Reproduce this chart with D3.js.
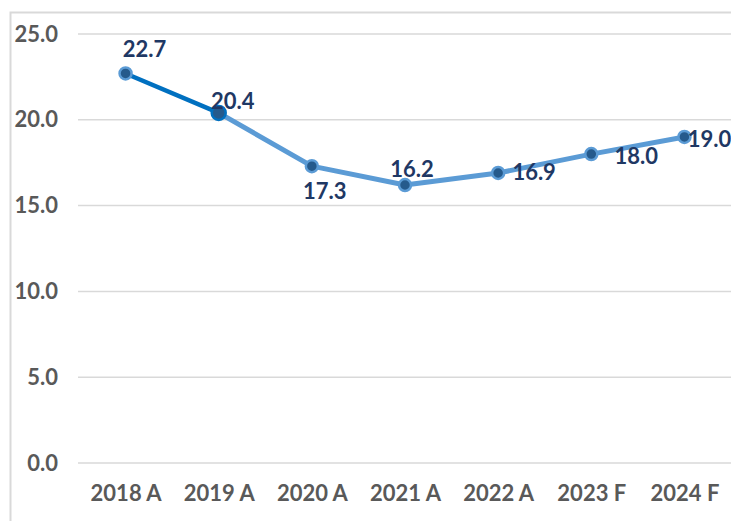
<!DOCTYPE html>
<html>
<head>
<meta charset="utf-8">
<script src="https://cdn.jsdelivr.net/npm/d3@7"></script>
<style>
  body { margin: 0; background: #fff; }
  text { font-family: Lato, "Open Sans", sans-serif; font-weight: bold; }
</style>
</head>
<body>
<div id="chart"></div>
<script>
var categories = ["2018 A", "2019 A", "2020 A", "2021 A", "2022 A", "2023 F", "2024 F"];
var values = [22.7, 20.4, 17.3, 16.2, 16.9, 18.0, 19.0];
var yTicks = [0, 5, 10, 15, 20, 25];

// label nudges (px) relative to each point, as dragged in the original
var labelOffsets = [[19, -24], [14, -12], [13, 25], [7, -16], [36, -1], [45, 2], [25, 2]];

var width = 731;
var height = 521;

var svg = d3.select("#chart").append("svg")
  .attr("width", width)
  .attr("height", height);

// chart frame (right and bottom edges fall outside the picture)
svg.append("rect")
  .attr("x", 10.5)
  .attr("y", 12.5)
  .attr("width", 760)
  .attr("height", 560)
  .attr("fill", "none")
  .attr("stroke", "#d9d9d9")
  .attr("stroke-width", 2);

var x = d3.scalePoint()
  .domain(categories)
  .range([79, 731])
  .padding(0.5);

var y = d3.scaleLinear()
  .domain([0, 25])
  .range([463, 34]);

// gridlines
svg.append("g")
  .selectAll("line")
  .data(yTicks)
  .enter()
  .append("line")
  .attr("x1", 78)
  .attr("x2", width)
  .attr("y1", function (d) { return y(d); })
  .attr("y2", function (d) { return y(d); })
  .attr("stroke", "#d9d9d9")
  .attr("stroke-width", 1.5);

// y axis labels
var yAxis = svg.append("g")
  .attr("transform", "translate(78,0)")
  .call(d3.axisLeft(y).tickValues(yTicks).tickFormat(d3.format(".1f")).tickSize(0).tickPadding(20));
yAxis.select(".domain").remove();
yAxis.selectAll("text")
  .attr("fill", "#595959")
  .style("font-size", "22px")
  .style("font-family", "Lato, sans-serif");

// x axis labels
var xAxis = svg.append("g")
  .attr("transform", "translate(0,463)")
  .call(d3.axisBottom(x).tickSize(0).tickPadding(22));
xAxis.select(".domain").remove();
xAxis.selectAll("text")
  .attr("fill", "#595959")
  .style("font-size", "22px")
  .style("font-family", "Lato, sans-serif");

var points = categories.map(function (c, i) { return { cat: c, value: values[i], i: i }; });

var line = d3.line()
  .x(function (d) { return x(d.cat); })
  .y(function (d) { return y(d.value); });

// first segment is a darker blue, the rest lighter
svg.append("path")
  .attr("d", line(points.slice(1)))
  .attr("fill", "none")
  .attr("stroke", "#5b9bd5")
  .attr("stroke-width", 5)
  .attr("stroke-linejoin", "round");

svg.append("path")
  .attr("d", line(points.slice(0, 2)))
  .attr("fill", "none")
  .attr("stroke", "#0070c0")
  .attr("stroke-width", 4.5)
  .attr("stroke-linecap", "round");

svg.append("g")
  .selectAll("circle")
  .data(points)
  .enter()
  .append("circle")
  .attr("cx", function (d) { return x(d.cat); })
  .attr("cy", function (d) { return y(d.value); })
  .attr("r", function (d) { return d.i == 1 ? 7 : 6; })
  .attr("fill", "#255a8c")
  .attr("stroke", function (d) { return d.i == 1 ? "#0070c0" : "#5b9bd5"; })
  .attr("stroke-width", 2.5);

svg.append("g")
  .selectAll("text")
  .data(points)
  .enter()
  .append("text")
  .attr("x", function (d) { return x(d.cat) + labelOffsets[d.i][0]; })
  .attr("y", function (d) { return y(d.value) + labelOffsets[d.i][1]; })
  .attr("dy", "0.35em")
  .attr("text-anchor", "middle")
  .attr("fill", "#1f3864")
  .style("font-size", "22px")
  .text(function (d) { return d3.format(".1f")(d.value); });
</script>
</body>
</html>
